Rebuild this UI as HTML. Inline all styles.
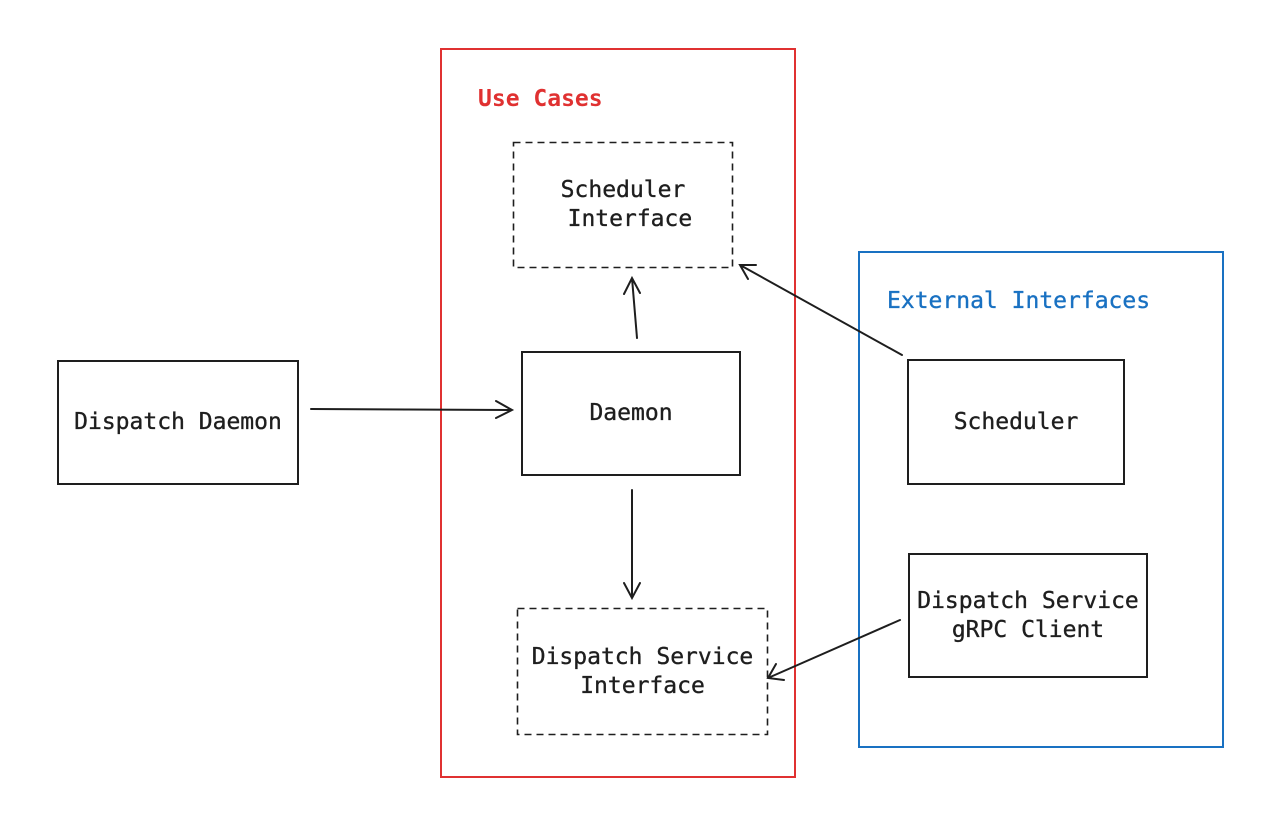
<!DOCTYPE html>
<html><head><meta charset="utf-8"><style>
html,body{margin:0;padding:0;background:#fff;}
body{width:1280px;height:830px;position:relative;overflow:hidden;font-family:"DejaVu Sans Mono","Liberation Mono",monospace;}
.b{position:absolute;box-sizing:border-box;border:2px solid #1e1e1e;display:flex;align-items:center;justify-content:center;text-align:center;font-size:23px;color:#1e1e1e;line-height:29px;-webkit-text-stroke:0.35px #1e1e1e;}
.d{border:none;}
.t{position:absolute;font-size:23px;-webkit-text-stroke:0.35px currentColor;}
</style></head><body>
<div class="b" style="left:440px;top:48px;width:356px;height:730px;border:2px solid #e03131;"></div>
<div class="t" style="left:478px;top:86px;color:#e03131;font-weight:bold;-webkit-text-stroke:0;">Use Cases</div>
<div class="b" style="left:858px;top:251px;width:366px;height:497px;border:2px solid #1971c2;"></div>
<div class="t" style="left:887px;top:288px;color:#1971c2;">External Interfaces</div>

<svg width="1280" height="830" style="position:absolute;left:0;top:0" fill="none" stroke="#1e1e1e" stroke-width="1.6" stroke-dasharray="7 5">
<rect x="513.5" y="142.5" width="219" height="125"/>
<rect x="517.5" y="608.5" width="250" height="126"/>
</svg>
<div class="b d" style="left:513px;top:142px;width:220px;height:126px;">Scheduler<br>&nbsp;Interface</div>
<div class="b" style="left:521px;top:351px;width:220px;height:125px;">Daemon</div>
<div class="b d" style="left:517px;top:608px;width:251px;height:127px;">Dispatch Service<br>Interface</div>
<div class="b" style="left:57px;top:360px;width:242px;height:125px;">Dispatch Daemon</div>
<div class="b" style="left:907px;top:359px;width:218px;height:126px;">Scheduler</div>
<div class="b" style="left:908px;top:553px;width:240px;height:125px;">Dispatch Service<br>gRPC Client</div>

<svg width="1280" height="830" style="position:absolute;left:0;top:0" fill="none" stroke="#1e1e1e" stroke-width="2" stroke-linecap="round">
<path d="M311 409 L512 410 M496 401 L512 410 L496 418"/>
<path d="M637 338 L632 278 M624 294 L632 278 L640 293"/>
<path d="M632 490 L632 598 M624 583 L632 598 L640 583"/>
<path d="M902 355 L740 265 M748 279 L740 265 L756 265"/>
<path d="M900 620 L768 678 M776 664 L768 678 L784 680"/>
</svg>
</body></html>
